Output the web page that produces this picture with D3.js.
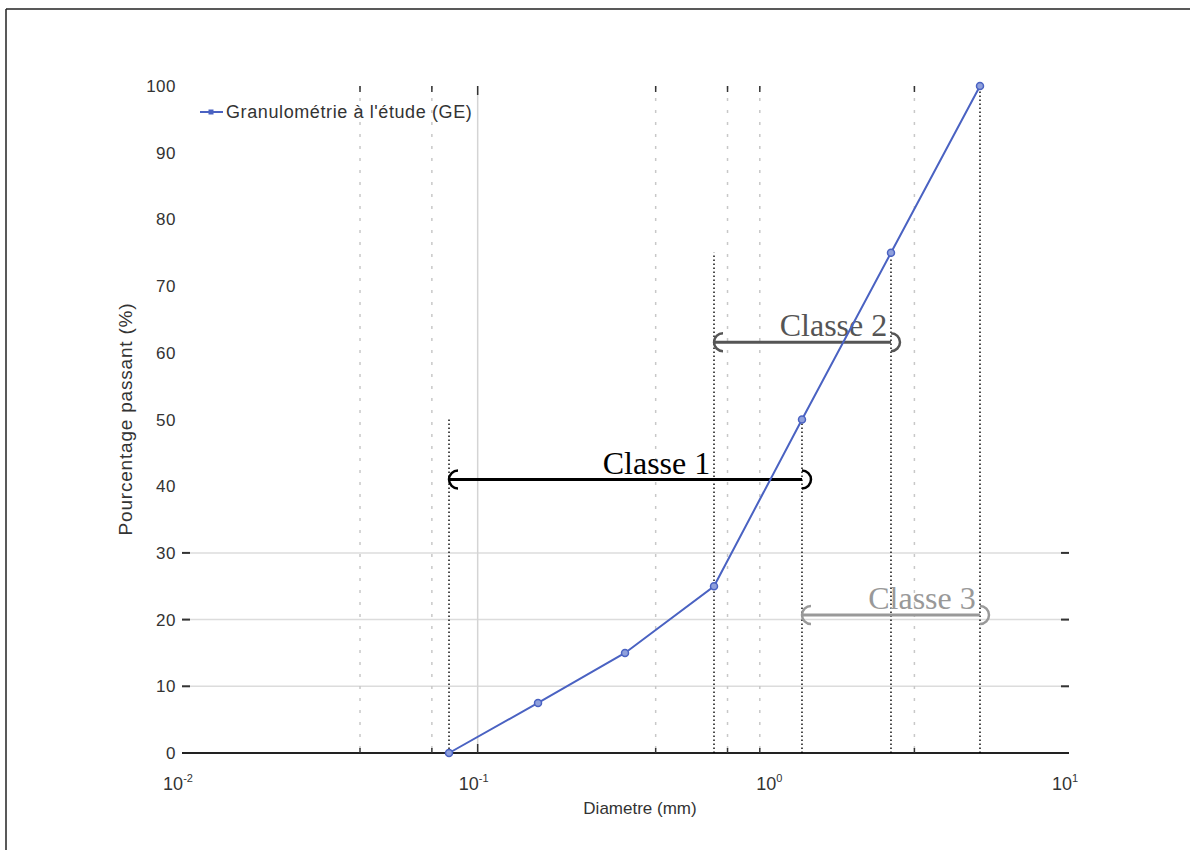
<!DOCTYPE html>
<html>
<head>
<meta charset="utf-8">
<script src="https://cdn.jsdelivr.net/npm/d3@7"></script>
<style>
  html, body { margin: 0; padding: 0; background: #fff; }
  svg { display: block; }
</style>
</head>
<body>
<svg id="chart" width="1190" height="850"></svg>
<script>
// ---- data ----
const diametres = [0.08, 0.16, 0.315, 0.63, 1.25, 2.5, 5];
const passants = [0, 7.5, 15, 25, 50, 75, 100];
const serieLabel = "Granulométrie à l'étude (GE)";

const reperesX = [0.08, 0.63, 1.25, 2.5, 5];
const reperesY = [50, 75, 50, 75, 100];

const classeNoms = ["Classe 1", "Classe 2", "Classe 3"];
const classeDebut = [0.08, 0.63, 1.25];
const classeFin = [1.25, 2.5, 5];
const classeNiveau = [41, 61.6, 20.7];

const xMajorTicks = [0.01, 0.1, 1, 10];
const xMajorExp = ["-2", "-1", "0", "1"];
const xMinorGrid = [0.04, 0.07, 0.4, 0.7, 0.9, 3];
const xSolidGrid = [0.1];
const yTickLabels = [0, 10, 20, 30, 40, 50, 60, 70, 80, 90, 100];
const yGridValues = [10, 20, 30];

// ---- styles ----
const classeColors = ["#000000", "#555555", "#999999"];
const blue = "#4a62c2";
const sans = "Liberation Sans, Arial, sans-serif";

const svg = d3.select("#chart");
const x = d3.scaleLog().domain([0.01, 10]).range([182, 1069]);
const y = d3.scaleLinear().domain([0, 100]).range([753, 86]);

// figure border (top and left)
svg.append("line").attr("x1", 6).attr("x2", 1190).attr("y1", 9).attr("y2", 9)
  .attr("stroke", "#222").attr("stroke-width", 1.5);
svg.append("line").attr("x1", 6).attr("x2", 6).attr("y1", 9).attr("y2", 850)
  .attr("stroke", "#222").attr("stroke-width", 1.5);

// horizontal grid
svg.append("g").selectAll("line").data(yGridValues).join("line")
  .attr("x1", x(0.01)).attr("x2", x(10))
  .attr("y1", d => y(d)).attr("y2", d => y(d))
  .attr("stroke", "#dcdcdc").attr("stroke-width", 1.5);

// vertical dotted grid
svg.append("g").selectAll("line").data(xMinorGrid).join("line")
  .attr("x1", d => x(d)).attr("x2", d => x(d))
  .attr("y1", y(100)).attr("y2", y(0))
  .attr("stroke", "#c8c8c8").attr("stroke-width", 1.5)
  .attr("stroke-dasharray", "3,9");
svg.append("g").selectAll("line").data(xSolidGrid).join("line")
  .attr("x1", d => x(d)).attr("x2", d => x(d))
  .attr("y1", y(100)).attr("y2", y(0))
  .attr("stroke", "#d4d4d4").attr("stroke-width", 1.5);

// top ticks
svg.append("g").selectAll("line").data(xMinorGrid.concat(xSolidGrid)).join("line")
  .attr("x1", d => x(d)).attr("x2", d => x(d))
  .attr("y1", y(100)).attr("y2", d => y(100) + (xSolidGrid.includes(d) ? 9 : 6))
  .attr("stroke", "#333").attr("stroke-width", 1.5);

// bottom axis
const xAxis = d3.axisBottom(x).tickValues(xMinorGrid.concat(xSolidGrid))
  .tickSize(0).tickFormat("");
const gx = svg.append("g").attr("transform", `translate(0,${y(0)})`).call(xAxis);
gx.select(".domain").remove();
svg.append("line").attr("x1", x(0.01)).attr("x2", x(10))
  .attr("y1", y(0)).attr("y2", y(0)).attr("stroke", "#222").attr("stroke-width", 2.2);
svg.append("g").selectAll("line").data(xMinorGrid.concat(xSolidGrid)).join("line")
  .attr("x1", d => x(d)).attr("x2", d => x(d))
  .attr("y1", y(0)).attr("y2", d => y(0) - (xSolidGrid.includes(d) ? 9 : 5))
  .attr("stroke", "#333").attr("stroke-width", 1.5);

// x major labels
const xl = svg.append("g").selectAll("text").data(xMajorTicks).join("text")
  .attr("x", d => x(d) - 4).attr("y", 790)
  .attr("text-anchor", "middle")
  .attr("font-family", sans)
  .attr("font-size", 18).attr("fill", "#333");
xl.append("tspan").text("10");
xl.append("tspan").attr("dy", -8).attr("font-size", 11).text((d, i) => xMajorExp[i]);

// y axis labels & ticks
svg.append("g").selectAll("text").data(yTickLabels).join("text")
  .attr("x", 176).attr("y", d => y(d) + 6)
  .attr("text-anchor", "end")
  .attr("font-family", sans)
  .attr("font-size", 17).attr("letter-spacing", 0.5).attr("fill", "#333")
  .text(d => d);
svg.append("g").selectAll("line").data(yGridValues).join("line")
  .attr("x1", x(0.01)).attr("x2", x(0.01) + 8)
  .attr("y1", d => y(d)).attr("y2", d => y(d))
  .attr("stroke", "#333").attr("stroke-width", 2);
svg.append("g").selectAll("line").data(yGridValues).join("line")
  .attr("x1", x(10) - 8).attr("x2", x(10))
  .attr("y1", d => y(d)).attr("y2", d => y(d))
  .attr("stroke", "#333").attr("stroke-width", 2);

// axis titles
svg.append("text").attr("x", 640).attr("y", 814).attr("text-anchor", "middle")
  .attr("font-family", sans)
  .attr("font-size", 17).attr("fill", "#333").text("Diametre (mm)");
svg.append("text").attr("transform", "translate(132,419) rotate(-90)")
  .attr("text-anchor", "middle")
  .attr("font-family", sans)
  .attr("font-size", 19).attr("letter-spacing", 0.8).attr("fill", "#333")
  .text("Pourcentage passant (%)");

// black dotted reference lines
svg.append("g").selectAll("line").data(reperesX).join("line")
  .attr("x1", d => x(d)).attr("x2", d => x(d))
  .attr("y1", y(0)).attr("y2", (d, i) => y(reperesY[i]))
  .attr("stroke", "#000").attr("stroke-width", 1.4)
  .attr("stroke-dasharray", "1.5,2.5");

// classes
classeNoms.forEach((nom, i) => {
  const g = svg.append("g");
  const col = classeColors[i];
  const x0 = x(classeDebut[i]), x1 = x(classeFin[i]), yy = y(classeNiveau[i]);
  const r = 9;
  g.append("line").attr("x1", x0).attr("x2", x1).attr("y1", yy).attr("y2", yy)
    .attr("stroke", col).attr("stroke-width", 3);
  g.append("path")
    .attr("d", `M${x0 + r},${yy - r} A${r},${r} 0 0 0 ${x0 + r},${yy + r}`)
    .attr("fill", "none").attr("stroke", col).attr("stroke-width", 2.5);
  g.append("path")
    .attr("d", `M${x1},${yy - r} A${r},${r} 0 0 1 ${x1},${yy + r}`)
    .attr("fill", "none").attr("stroke", col).attr("stroke-width", 2.5);
  g.append("text").attr("x", (x0 + x1) / 2 + 31).attr("y", yy - 6)
    .attr("text-anchor", "middle")
    .attr("font-family", "Liberation Serif, Times New Roman, serif")
    .attr("font-size", 32).attr("fill", col).text(nom);
});

// series line
const pts = diametres.map((d, i) => [d, passants[i]]);
svg.append("path").datum(pts)
  .attr("d", d3.line().x(d => x(d[0])).y(d => y(d[1])))
  .attr("fill", "none").attr("stroke", blue).attr("stroke-width", 2);
svg.append("g").selectAll("circle").data(pts).join("circle")
  .attr("cx", d => x(d[0])).attr("cy", d => y(d[1])).attr("r", 3.5)
  .attr("fill", "#8fa0dc").attr("stroke", blue).attr("stroke-width", 1.5);

// legend
svg.append("line").attr("x1", 200).attr("x2", 223).attr("y1", 112).attr("y2", 112)
  .attr("stroke", blue).attr("stroke-width", 2);
svg.append("rect").attr("x", 208.5).attr("y", 109.5).attr("width", 5).attr("height", 5)
  .attr("fill", blue);
svg.append("text").attr("x", 226).attr("y", 118)
  .attr("font-family", sans)
  .attr("font-size", 18).attr("letter-spacing", 0.6).attr("fill", "#333").text(serieLabel);
</script>
</body>
</html>
